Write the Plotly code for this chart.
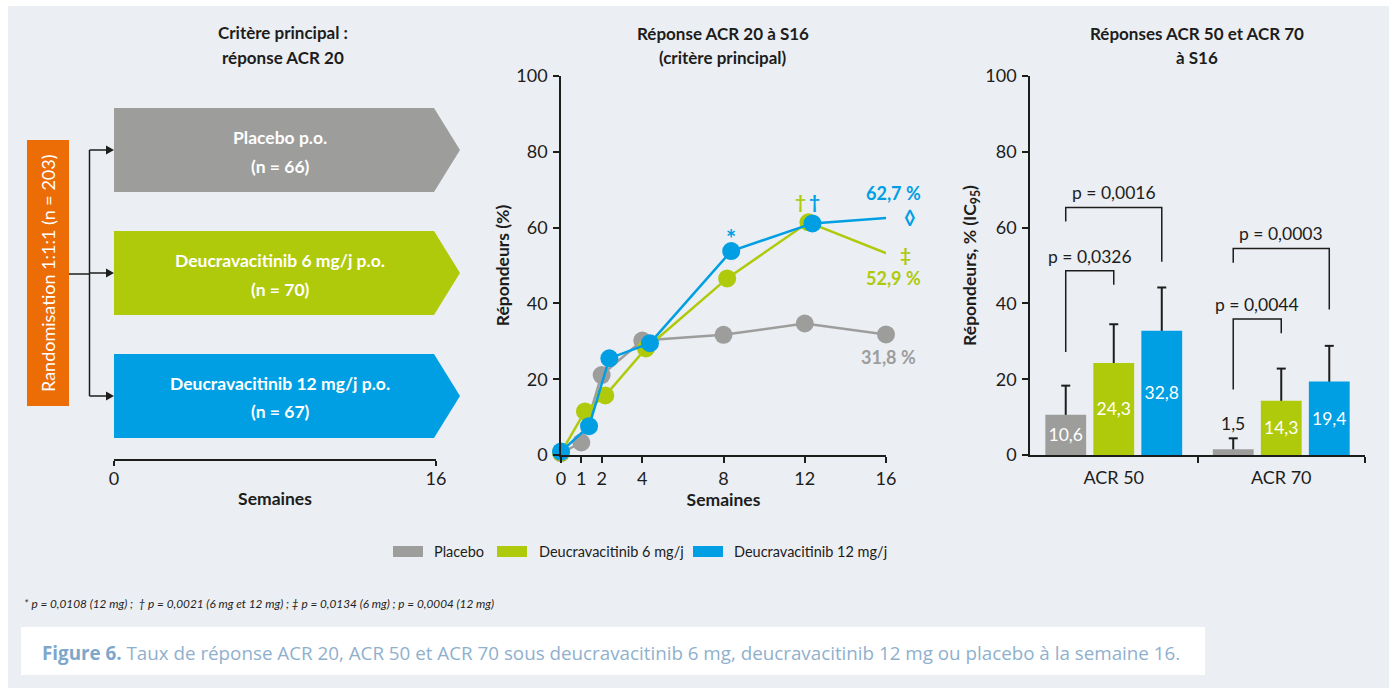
import plotly.graph_objects as go

# ---------------------------------------------------------------- data
arm_names = ["Placebo", "Deucravacitinib 6 mg/j", "Deucravacitinib 12 mg/j"]
arm_boxes = ["Placebo p.o.", "Deucravacitinib 6 mg/j p.o.", "Deucravacitinib 12 mg/j p.o."]
arm_n = [66, 70, 67]
n_total = 203

weeks = [0, 1, 2, 4, 8, 12, 16]
acr20_placebo = [0.5, 3.3, 21.1, 30.2, 31.7, 34.7, 31.8]
acr20_6mg = [0.6, 11.5, 15.7, 28.1, 46.6, 61.4, 52.9]
acr20_12mg = [0.9, 7.6, 25.5, 29.5, 53.8, 61.1, 62.7]

endpoints = ["ACR 50", "ACR 70"]
resp_placebo = [10.6, 1.5]
resp_6mg = [24.3, 14.3]
resp_12mg = [32.8, 19.4]
ci_high_placebo = [18.3, 4.4]
ci_high_6mg = [34.5, 22.8]
ci_high_12mg = [44.2, 28.8]

p_values = ["0,0326", "0,0016", "0,0044", "0,0003"]

footnote = ("* p = 0,0108 (12 mg) ;  † p = 0,0021 (6 mg et 12 mg) ; ‡ p = 0,0134 (6 mg) ;"
            " p = 0,0004 (12 mg)")
caption_lead = "Figure 6."
caption_text = ("Taux de réponse ACR 20, ACR 50 et ACR 70 sous deucravacitinib 6 mg, "
                "deucravacitinib 12 mg ou placebo à la semaine 16.")

# ---------------------------------------------------------------- style
W, H = 1389, 688
FONT = "Lato, Roboto, sans-serif"
CAPTION_FONT = "Open Sans, Noto Sans, sans-serif"
INK = "#1d1d1b"
GREY, GREEN, BLUE, ORANGE = "#9d9d9c", "#afca0b", "#009fe3", "#ec6c05"
BG = "#ebeef3"
colors = [GREY, GREEN, BLUE]


def px(x):
    return x / W


def py(y):
    return 1 - y / H


def fmt(v):
    return f"{v:.1f}".replace(".", ",")


shapes = []
annotations = []


def text(s, x, y, size=18, color=INK, bold=False, xanchor="center", yanchor="middle",
         xref="paper", yref="paper", angle=0, font=FONT, **kw):
    if bold:
        s = f"<b>{s}</b>"
    if xref == "paper":
        x = px(x)
    if yref == "paper":
        y = py(y)
    annotations.append(dict(text=s, x=x, y=y, xref=xref, yref=yref, showarrow=False,
                            xanchor=xanchor, yanchor=yanchor, textangle=angle,
                            font=dict(family=font, size=size, color=color), **kw))


def rect(x0, y0, x1, y1, color, layer="below"):
    shapes.append(dict(type="rect", xref="paper", yref="paper", x0=px(x0), x1=px(x1),
                       y0=py(y1), y1=py(y0), fillcolor=color, line_width=0, layer=layer))


def path(points, fill=None, width=1.5, color=INK, layer="above"):
    d = "M " + " L ".join(f"{px(a):.5f},{py(b):.5f}" for a, b in points)
    if fill:
        d += " Z"
    shapes.append(dict(type="path", xref="paper", yref="paper", path=d,
                       fillcolor=fill, line=dict(color=color, width=0 if fill else width),
                       layer=layer))


# page background
rect(8, 6, W, H, BG)

fig = go.Figure()

# ---------------------------------------------------------------- left: study design
text("Critère principal :", 283, 33, size=17, bold=True)
text("réponse ACR 20", 283, 57, size=17, bold=True)

rect(27, 140, 69, 406, ORANGE, layer="above")
text(f"Randomisation 1:1:1 (n = {n_total})", 48, 273, size=18, color="white", angle=-90)

arm_rows = [150, 273, 396]
path([(69, 274), (89.5, 274)])
path([(89.5, arm_rows[0]), (89.5, arm_rows[-1])])
for yc, label, n, col in zip(arm_rows, arm_boxes, arm_n, colors):
    path([(89.5, yc), (107, yc)])
    path([(106, yc - 4.5), (114, yc), (106, yc + 4.5)], fill=INK)
    path([(114, yc - 42), (434, yc - 42), (460, yc), (434, yc + 42), (114, yc + 42)],
         fill=col, layer="below")
    text(label, 280, yc - 13, size=17.5, color="white", bold=True)
    text(f"(n = {n})", 280, yc + 16, size=17.5, color="white", bold=True)

# timeline axis of the design panel
fig.add_trace(go.Scatter(x=[0, 16], y=[0, 0], mode="none", xaxis="x3", yaxis="y3",
                         showlegend=False, hoverinfo="skip"))

# ---------------------------------------------------------------- middle: ACR 20 over time
text("Réponse ACR 20 à S16", 723, 34, size=17, bold=True)
text("(critère principal)", 723, 57, size=17, bold=True)

dodge = [0.0, 0.18, 0.38]
acr20 = [acr20_placebo, acr20_6mg, acr20_12mg]
for name, series, col, dx in zip(arm_names, acr20, colors, dodge):
    xs = [w + dx if w > 0 else w for w in weeks]
    fig.add_trace(go.Scatter(
        x=xs, y=series, mode="lines+markers", name=name,
        line=dict(color=col, width=2.5), marker=dict(color=col, size=18),
        cliponaxis=False, showlegend=False, hoverinfo="skip"))

# significance marks and end-of-study values
w8, w12, w16 = weeks.index(8), weeks.index(12), weeks.index(16)
text("*", 8 + dodge[2], acr20_12mg[w8] + 3.2, size=24, color=BLUE, bold=True,
     xref="x", yref="y")
text("†", 12 - 0.2, acr20_6mg[w12] + 5.5, size=19, color=GREEN, bold=True,
     xref="x", yref="y")
text("†", 12 + 0.5, acr20_6mg[w12] + 5.5, size=19, color=BLUE, bold=True,
     xref="x", yref="y")
text(f"{fmt(acr20_12mg[w16])} %", 16, acr20_12mg[w16] + 6.3, size=18, color=BLUE,
     bold=True, xref="x", yref="y", xshift=7)
text("◊", 16, acr20_12mg[w16], size=20, color=BLUE, bold=True, xref="x", yref="y", xshift=24)
text("‡", 16, acr20_6mg[w16], size=19, color=GREEN, bold=True, xref="x", yref="y", xshift=19)
text(f"{fmt(acr20_6mg[w16])} %", 16, acr20_6mg[w16] - 6.3, size=18, color=GREEN,
     bold=True, xref="x", yref="y", xshift=7)
text(f"{fmt(acr20_placebo[w16])} %", 16, acr20_placebo[w16] - 6, size=18, color=GREY,
     bold=True, xref="x", yref="y", xshift=2)

# ---------------------------------------------------------------- right: ACR 50 / ACR 70
text("Réponses ACR 50 et ACR 70", 1197, 34, size=17, bold=True)
text("à S16", 1197, 57, size=17, bold=True)

BARGAP = 0.14
slot = (1 - BARGAP) / 3
responses = [resp_placebo, resp_6mg, resp_12mg]
ci_high = [ci_high_placebo, ci_high_6mg, ci_high_12mg]
cat_x = list(range(len(endpoints)))

for k, (name, vals, hi, col) in enumerate(zip(arm_names, responses, ci_high, colors)):
    fig.add_trace(go.Bar(
        x=cat_x, y=vals, name=name, marker=dict(color=col, line_width=0),
        text=[fmt(v) for v in vals],
        textposition=["inside" if v >= 5 else "none" for v in vals],
        insidetextanchor="middle", textangle=0,
        textfont=dict(family=FONT, size=17.5, color="white"),
        xaxis="x2", yaxis="y2", showlegend=False, hoverinfo="skip"))
    for i, (v, h) in enumerate(zip(vals, hi)):
        xc = i + (k - 1) * slot
        # upper confidence limit: stem drawn beneath the bar, cap on top
        shapes.append(dict(type="line", xref="x2", yref="y2", x0=xc, x1=xc, y0=0, y1=h,
                           line=dict(color=INK, width=2), layer="below"))
        shapes.append(dict(type="line", xref="x2", yref="y2", xsizemode="pixel", xanchor=xc,
                           x0=-4.5, x1=4.5, y0=h, y1=h,
                           line=dict(color=INK, width=2), layer="above"))
        if v < 5:
            text(fmt(v), xc, h, size=17.5, color=INK, xref="x2", yref="y2",
                 yanchor="bottom", yshift=2)

# p-value brackets: (endpoint, compared arm, top, left foot, right foot)
brackets = [(0, 1, 48.6, 27.2, 44.9), (0, 2, 65.3, 61.6, 51.0),
            (1, 1, 35.9, 17.3, 32.1), (1, 2, 54.5, 50.7, 38.4)]
for (i, k, top, foot_l, foot_r), p in zip(brackets, p_values):
    xl = i - slot
    xr = i + (k - 1) * slot
    shapes.append(dict(type="path", xref="x2", yref="y2",
                       path=f"M {xl},{foot_l} L {xl},{top} L {xr},{top} L {xr},{foot_r}",
                       line=dict(color=INK, width=1.5)))
    text(f"p = {p}", (xl + xr) / 2, top + 3.9, size=17.5, xref="x2", yref="y2")

# ---------------------------------------------------------------- legend
legend_items = [(393, 432), (497, 537), (693, 732)]
for (x0, tx), name, col in zip(legend_items, arm_names, colors):
    rect(x0, 546, x0 + 30, 557, col, layer="above")
    text(name, tx, 551, size=14.5, xanchor="left")

# ---------------------------------------------------------------- footnote and caption
text(f"<i>{footnote}</i>", 22, 603, size=11.8, xanchor="left")
rect(21, 627, 1205, 675, "white")
text(f"<b><span style='color:#7ea7cb'>{caption_lead}</span></b> {caption_text}", 40, 653,
     size=18.8, color="#8fb0cd", xanchor="left", font=CAPTION_FONT)

# ---------------------------------------------------------------- axes
axis_common = dict(showline=True, linecolor=INK, linewidth=1.5, ticks="outside",
                   tickcolor=INK, tickwidth=1.5, ticklen=6, showgrid=False, zeroline=False,
                   tickfont=dict(family=FONT, size=18, color=INK), fixedrange=True,
                   automargin=False)
title_font = dict(family=FONT, size=17.5, color=INK)

fig.update_layout(
    width=W, height=H, autosize=False,
    margin=dict(l=0, r=0, t=0, b=0, pad=0, autoexpand=False),
    paper_bgcolor="white", plot_bgcolor="rgba(0,0,0,0)",
    barmode="group", bargap=BARGAP, bargroupgap=0.15,
    font=dict(family=FONT, color=INK),
    showlegend=False,
    xaxis=dict(axis_common, domain=[px(561), px(886)], range=[0, 16], anchor="y",
               tickmode="array", tickvals=weeks, ticklabelstandoff=1,
               title=dict(text="<b>Semaines</b>", font=title_font, standoff=4)),
    yaxis=dict(axis_common, domain=[py(455), py(76)], range=[0, 100], anchor="x",
               tickmode="array", tickvals=[0, 20, 40, 60, 80, 100], ticklabelstandoff=2,
               title=dict(text="<b>Répondeurs (%)</b>", font=title_font, standoff=2)),
    xaxis2=dict(axis_common, domain=[px(1030), px(1365)], range=[-0.5, 1.5], anchor="y2",
                tickmode="array", tickvals=cat_x, ticktext=endpoints, ticklen=0,
                ticklabelstandoff=6,
                minor=dict(tickmode="array", tickvals=[0.5, 1.5], ticks="outside",
                           ticklen=6, tickcolor=INK, tickwidth=1.5)),
    yaxis2=dict(axis_common, domain=[py(455), py(76)], range=[0, 100], anchor="x2",
                tickmode="array", tickvals=[0, 20, 40, 60, 80, 100], ticklabelstandoff=2,
                title=dict(text="<b>Répondeurs, % (IC<sub>95</sub>)</b>", font=title_font,
                           standoff=4)),
    xaxis3=dict(axis_common, domain=[px(114), px(436)], range=[0, 16], anchor="y3",
                tickmode="array", tickvals=[0, 16], ticklen=5, ticklabelstandoff=-2,
                title=dict(text="<b>Semaines</b>", font=title_font, standoff=4)),
    yaxis3=dict(domain=[py(459), py(440)], range=[0, 1], anchor="x3", visible=False,
                fixedrange=True),
    shapes=shapes,
    annotations=annotations,
)

# the page carries only the figure, edge to edge
fig.write_html("out.html",
               post_script="document.body.style.margin='0';"
                           "document.body.style.overflow='hidden';")
